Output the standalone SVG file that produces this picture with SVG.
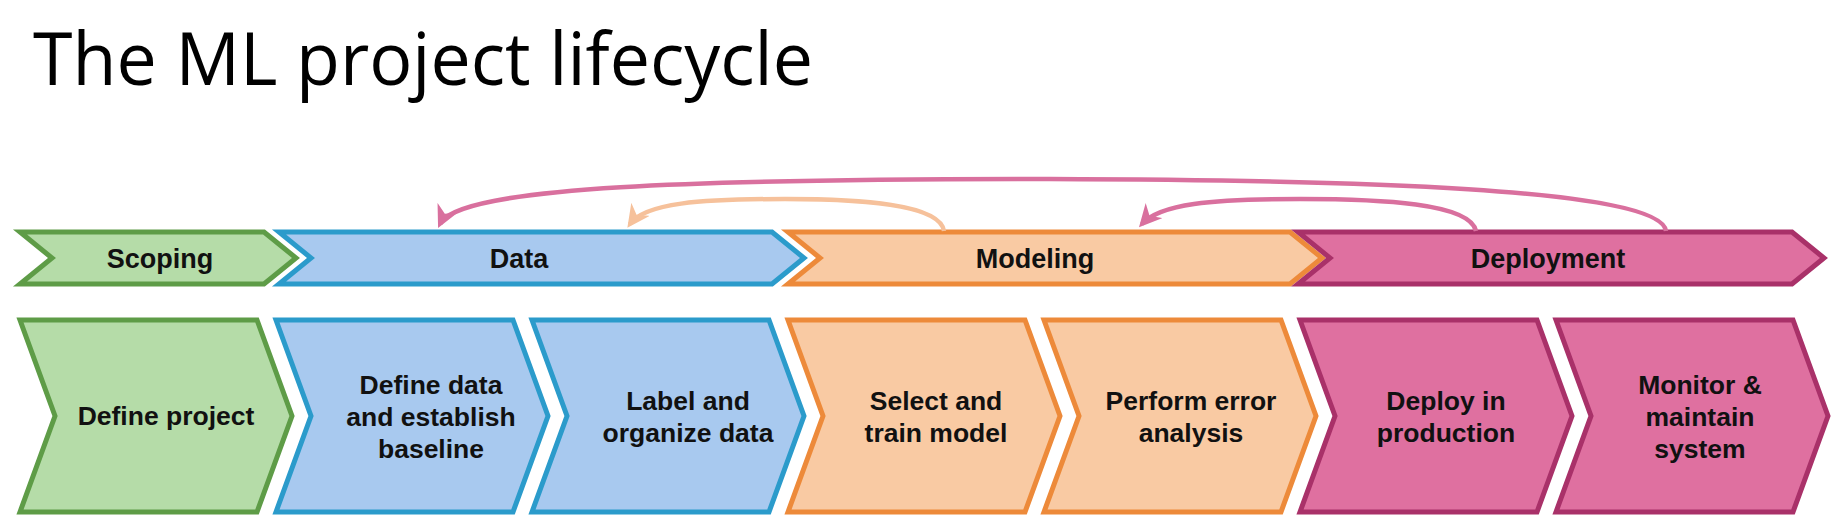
<svg xmlns="http://www.w3.org/2000/svg" width="1848" height="528" viewBox="0 0 1848 528">
<style>
.t{font-family:"Liberation Sans",Arial,sans-serif;font-weight:bold;font-size:26.5px;fill:#111;text-anchor:middle}
.p{font-size:27px}
.g{fill:#b5dca8;stroke:#5e9c47;stroke-width:5;stroke-linejoin:miter}
.b{fill:#a8c9ef;stroke:#2b9bcb;stroke-width:5}
.o{fill:#f9caa3;stroke:#ed8a3a;stroke-width:5}
.k{fill:#df70a0;stroke:#a93169;stroke-width:5}
.c{fill:none;stroke-width:4.5}
</style>
<defs>
<marker id="ap" viewBox="0 0 10 10" refX="8" refY="5" markerWidth="5" markerHeight="5" orient="auto" markerUnits="strokeWidth"><path d="M0,0 L10,5 L0,10 L3,5 Z" fill="#d9709e"/></marker>
<marker id="ao" viewBox="0 0 10 10" refX="8" refY="5" markerWidth="5" markerHeight="5" orient="auto" markerUnits="strokeWidth"><path d="M0,0 L10,5 L0,10 L3,5 Z" fill="#f6c19b"/></marker>
</defs>
<rect width="1848" height="528" fill="#fff"/>
<text x="33" y="85" font-family="'Open Sans',Lato,sans-serif" font-size="73" textLength="780" lengthAdjust="spacingAndGlyphs" fill="#000">The ML project lifecycle</text>

<g id="phase-scoping"><polygon class="g" points="20,232 264,232 296,258 264,284 20,284 52,258"/><text class="t p" x="160" y="268">Scoping</text></g>
<g id="phase-data"><polygon class="b" points="279,232 772,232 804,258 772,284 279,284 311,258"/><text class="t p" x="519" y="268">Data</text></g>
<g id="phase-modeling"><polygon class="o" points="788,232 1290,232 1322,258 1290,284 788,284 820,258"/><text class="t p" x="1035" y="268">Modeling</text></g>
<g id="phase-deployment"><polygon class="k" points="1298,232 1792,232 1824,258 1792,284 1298,284 1330,258"/><text class="t p" x="1548" y="268">Deployment</text></g>

<g id="connectors">
<path class="c" stroke="#d9709e" marker-end="url(#ap)" d="M1666,231 C1660,188 1350,180 1050,179 C700,179 458,186 440,224"/>
<path class="c" stroke="#f6c19b" marker-end="url(#ao)" d="M944,231 C940,204 860,199 785,199 C700,199 645,203 630,224"/>
<path class="c" stroke="#d9709e" marker-end="url(#ap)" d="M1476,231 C1470,203 1380,199 1300,199 C1210,199 1160,204 1142,224"/>
</g>

<g id="s1"><polygon class="g" points="20,320 257,320 292,416 257,512 20,512 55,416"/><text class="t" x="166" y="425">Define project</text></g>
<g id="s2"><polygon class="b" points="276,320 513,320 548,416 513,512 276,512 311,416"/><text class="t"><tspan x="431" y="394">Define data</tspan><tspan x="431" y="426">and establish</tspan><tspan x="431" y="458">baseline</tspan></text></g>
<g id="s3"><polygon class="b" points="532,320 769,320 804,416 769,512 532,512 567,416"/><text class="t"><tspan x="688" y="410">Label and</tspan><tspan x="688" y="442">organize data</tspan></text></g>
<g id="s4"><polygon class="o" points="788,320 1025,320 1060,416 1025,512 788,512 823,416"/><text class="t"><tspan x="936" y="410">Select and</tspan><tspan x="936" y="442">train model</tspan></text></g>
<g id="s5"><polygon class="o" points="1044,320 1281,320 1316,416 1281,512 1044,512 1079,416"/><text class="t"><tspan x="1191" y="410">Perform error</tspan><tspan x="1191" y="442">analysis</tspan></text></g>
<g id="s6"><polygon class="k" points="1300,320 1537,320 1572,416 1537,512 1300,512 1335,416"/><text class="t"><tspan x="1446" y="410">Deploy in</tspan><tspan x="1446" y="442">production</tspan></text></g>
<g id="s7"><polygon class="k" points="1556,320 1793,320 1828,416 1793,512 1556,512 1591,416"/><text class="t"><tspan x="1700" y="394">Monitor &amp;</tspan><tspan x="1700" y="426">maintain</tspan><tspan x="1700" y="458">system</tspan></text></g>
</svg>
